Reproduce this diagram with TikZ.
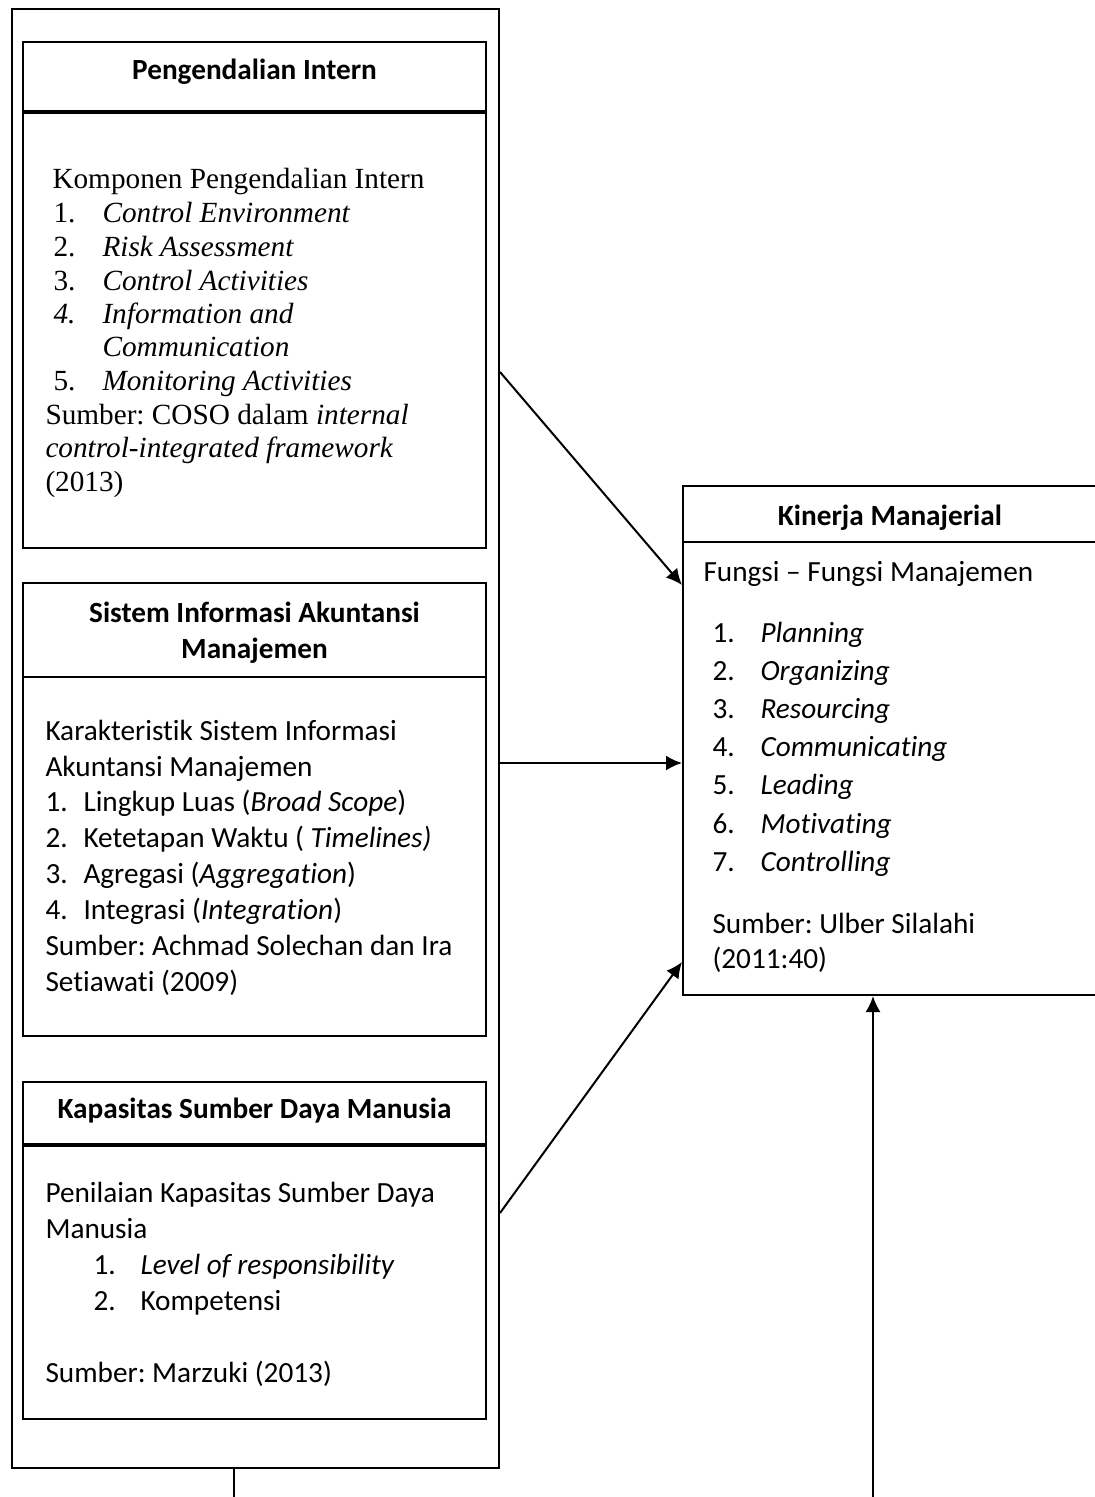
\documentclass[tikz,border=0pt]{standalone}
\usepackage{fontspec}
\setmainfont{Carlito}[Ligatures=NoCommon,Contextuals=NoAlternate]
\newfontfamily\timesfam{Liberation Serif}
\usepackage{tikz}
\usetikzlibrary{
  arrows.meta,
  calc,
  positioning,
  fit
}
\newcommand\bodysize{\fontsize{11.7pt}{14pt}\selectfont}
\frenchspacing

\tikzset{
  box/.style={draw,line width=0.8pt,inner sep=0pt},
  divider/.style={line width=1.3pt},
  arr/.style={-{Latex[length=6.4pt,width=6pt]},line width=0.8pt},
  txt/.style={anchor=base west,inner sep=0pt,font=\bodysize},
  tnr/.style={anchor=base west,inner sep=0pt,font=\timesfam\bodysize},
  head/.style={anchor=base,inner sep=0pt,font=\bodysize\bfseries}
}

\begin{document}
\begin{tikzpicture}[x=0.4pt,y=-0.4pt]
  \useasboundingbox (0,0) rectangle (1094,1497);
  % frames
  \node[box,fit={(12,9) (499,1468)}] (frame) {};
  \node[box,fit={(23,42) (486,548)}] (pi) {};
  \node[box,fit={(23,583) (486,1036)}] (sia) {};
  \node[box,fit={(23,1082) (486,1419)}] (ksdm) {};
  \node[box,fit={(683,486) (1097,995)}] (kin) {};
  \draw[divider] (pi.west |- 0,112) -- (pi.east |- 0,112);
  \draw[line width=0.8pt] (sia.west |- 0,677) -- (sia.east |- 0,677);
  \draw[divider] (ksdm.west |- 0,1145) -- (ksdm.east |- 0,1145);
  \draw[line width=0.8pt] (kin.west |- 0,542) -- (kin.east |- 0,542);

  % Pengendalian Intern
  \node[head] (pi-head) at (254.5,80) {Pengendalian Intern};
  \node[tnr] (pi-title) at (52,189) {Komponen Pengendalian Intern};
  \foreach \n/\t [count=\i] in {1./Control Environment,2./Risk Assessment,
      3./Control Activities,\textit{4.}/Information and}{
    \node[tnr] (pi-n\i) at (53,{189+33.7*\i}) {\n};
    \node[tnr] (pi-t\i) at (102,{189+33.7*\i}) {\textit{\t}};
  }
  \node[tnr] (pi-t5) at (102,357) {\textit{Communication}};
  \node[tnr] (pi-n6) at (53,391) {5.};
  \node[tnr] (pi-t6) at (102,391) {\textit{Monitoring Activities}};
  \node[tnr] (pi-src1) at (45,425) {Sumber: COSO dalam \textit{internal}};
  \node[tnr] (pi-src2) at (45,458) {\textit{control-integrated framework}};
  \node[tnr] (pi-src3) at (45,492) {(2013)};

  % Sistem Informasi Akuntansi Manajemen
  \node[head] (sia-head1) at (254.5,622) {Sistem Informasi Akuntansi};
  \node[head] (sia-head2) at (254.5,658) {Manajemen};
  \node[txt] (sia-title1) at (45,740) {Karakteristik Sistem Informasi};
  \node[txt] (sia-title2) at (45,776) {Akuntansi Manajemen};
  \foreach \t [count=\i] in {Lingkup Luas (\textit{Broad Scope}),
      Ketetapan Waktu ( \textit{Timelines)},Agregasi (\textit{Aggregation}),
      Integrasi (\textit{Integration})}{
    \node[txt] (sia-n\i) at (45,{776+35.9*\i}) {\i.};
    \node[txt] (sia-t\i) at (83,{776+35.9*\i}) {\t};
  }
  \node[txt] (sia-src1) at (45,955) {Sumber: Achmad Solechan dan Ira};
  \node[txt] (sia-src2) at (45,991) {Setiawati (2009)};

  % Kapasitas Sumber Daya Manusia
  \node[head] (ksdm-head) at (254.5,1118) {Kapasitas Sumber Daya Manusia};
  \node[txt] (ksdm-title1) at (45,1202) {Penilaian Kapasitas Sumber Daya};
  \node[txt] (ksdm-title2) at (45,1238) {Manusia};
  \node[txt] (ksdm-n1) at (93,1274) {1.};
  \node[txt] (ksdm-t1) at (140,1274) {\textit{Level of responsibility}};
  \node[txt] (ksdm-n2) at (93,1310) {2.};
  \node[txt] (ksdm-t2) at (140,1310) {Kompetensi};
  \node[txt] (ksdm-src) at (45,1382) {Sumber: Marzuki (2013)};

  % Kinerja Manajerial
  \node[head] (kin-head) at (890,525) {Kinerja Manajerial};
  \node[txt] (kin-title) at (703,581) {Fungsi -- Fungsi Manajemen};
  \foreach \t [count=\i] in {Planning,Organizing,Resourcing,Communicating,
      Leading,Motivating,Controlling}{
    \node[txt] (kin-n\i) at (712,{603.8+38.2*\i}) {\i.};
    \node[txt] (kin-t\i) at (760,{603.8+38.2*\i}) {\textit{\t}};
  }
  \node[txt] (kin-src1) at (712,933) {Sumber: Ulber Silalahi};
  \node[txt] (kin-src2) at (712,968) {(2011:40)};

  % connectors
  \coordinate (bottom-r) at (873,1497);
  \coordinate (bottom-l) at (234,1497);
  \draw[arr] (frame.east |- 0,372) -- (kin.west |- 0,585);
  \draw[arr] (frame.east |- 0,763) -- (kin.west |- 0,763);
  \draw[arr] (frame.east |- 0,1213) -- (kin.west |- 0,962);
  \draw[arr] (bottom-r) -- (kin.south -| bottom-r);
  \draw[line width=0.8pt] (frame.south -| bottom-l) -- (bottom-l);
\end{tikzpicture}
\end{document}
